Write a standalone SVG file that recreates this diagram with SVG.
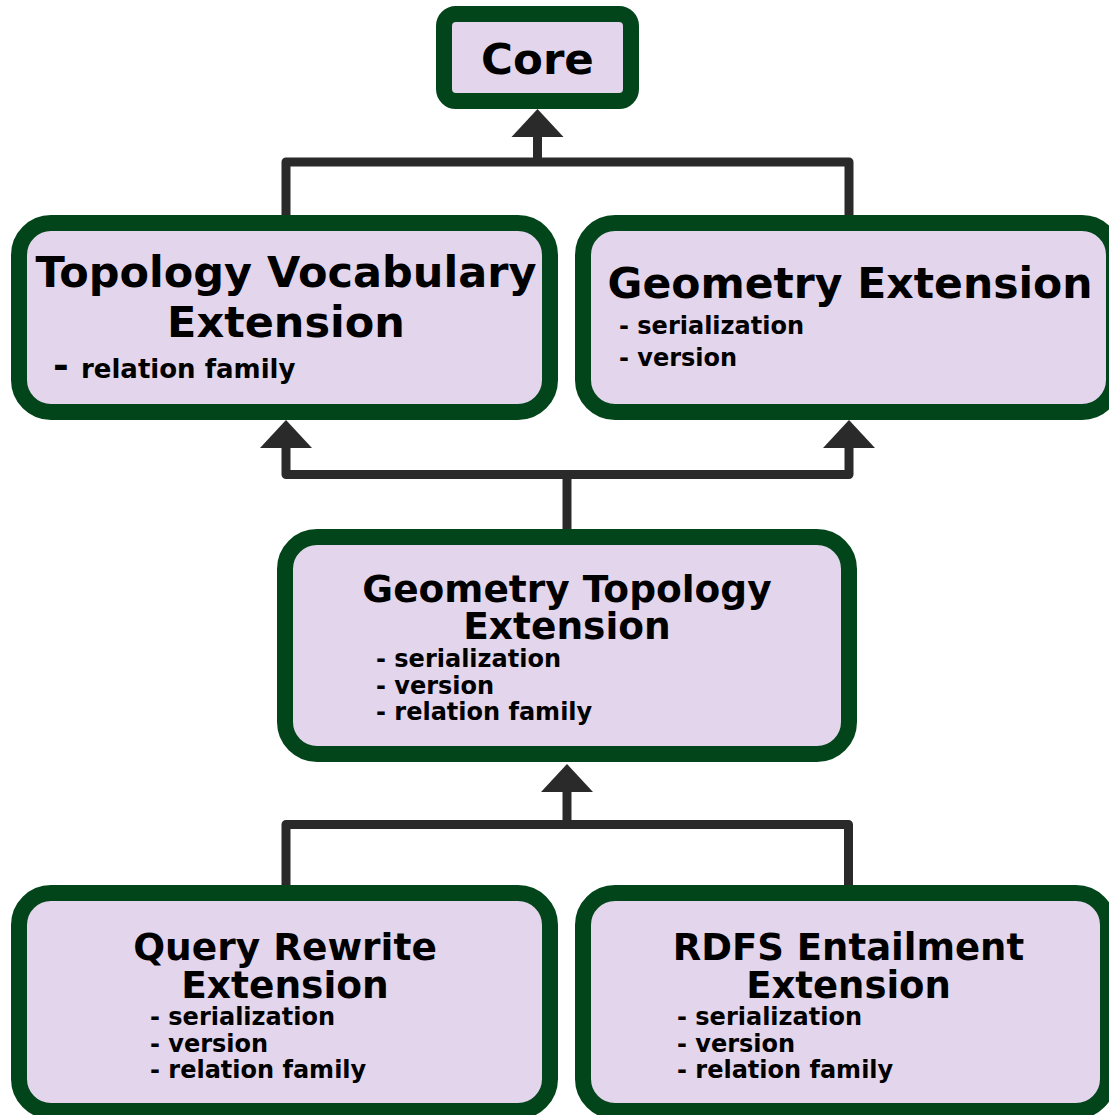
<svg xmlns="http://www.w3.org/2000/svg" width="1109" height="1115" viewBox="0 0 1109 1115">
  <defs>
    <style>
      .box { fill: #e2d5ec; stroke: #03451a; stroke-width: 16; }
      .wire { fill: none; stroke: #2a2a2a; stroke-width: 9; stroke-linejoin: round; }
      .title { font-family: "DejaVu Sans", Verdana, sans-serif; font-weight: bold; fill: #000; text-anchor: middle; }
      .item { font-family: "DejaVu Sans", Verdana, sans-serif; font-weight: bold; fill: #000; font-size: 24px; }
    </style>
    <marker id="head" markerUnits="userSpaceOnUse" markerWidth="30" markerHeight="54" viewBox="0 -27 30 54" refX="0" refY="0" orient="auto-start-reverse">
      <path d="M0,-26 L28,0 L0,26 Z" fill="#2a2a2a"/>
    </marker>
  </defs>

  <rect width="1109" height="1115" fill="#ffffff"/>

  <!-- connectors -->
  <g id="connectors">
    <path class="wire" d="M286,215 V162 H849 V215"/>
    <path class="wire" d="M537.5,162 V137" marker-end="url(#head)"/>
    <path class="wire" d="M286,448 V474.5 H849 V448" marker-start="url(#head)" marker-end="url(#head)"/>
    <path class="wire" d="M567,529 V474.5"/>
    <path class="wire" d="M286,885 V824.5 H848.5 V885"/>
    <path class="wire" d="M567,824.5 V792" marker-end="url(#head)"/>
  </g>

  <!-- Core -->
  <g id="core">
    <rect class="box" x="444" y="14" width="187" height="87" rx="12"/>
    <text class="title" x="537.5" y="74" font-size="43.5">Core</text>
  </g>

  <!-- Topology Vocabulary Extension -->
  <g id="topology-vocabulary">
    <rect class="box" x="19" y="223" width="531" height="189" rx="32"/>
    <text class="title" x="286" y="287" font-size="43">Topology Vocabulary</text>
    <text class="title" x="286" y="337" font-size="43">Extension</text>
    <text class="item" x="53" y="378"><tspan font-size="38">-</tspan><tspan x="81" font-size="26">relation family</tspan></text>
  </g>

  <!-- Geometry Extension -->
  <g id="geometry">
    <rect class="box" x="583" y="223" width="531" height="189" rx="32"/>
    <text class="title" x="850" y="298" font-size="42.5">Geometry Extension</text>
    <text class="item" x="619" y="334" font-size="29">- serialization</text>
    <text class="item" x="619" y="366" font-size="29">- version</text>
  </g>

  <!-- Geometry Topology Extension -->
  <g id="geometry-topology">
    <rect class="box" x="285" y="537" width="564" height="217" rx="32"/>
    <text class="title" x="567" y="602" font-size="37.5">Geometry Topology</text>
    <text class="title" x="567" y="639" font-size="37.5">Extension</text>
    <text class="item" x="376" y="667">- serialization</text>
    <text class="item" x="376" y="694">- version</text>
    <text class="item" x="376" y="720">- relation family</text>
  </g>

  <!-- Query Rewrite Extension -->
  <g id="query-rewrite">
    <rect class="box" x="19" y="893" width="531" height="218" rx="32"/>
    <text class="title" x="285" y="960" font-size="37.5">Query Rewrite</text>
    <text class="title" x="285" y="998" font-size="37.5">Extension</text>
    <text class="item" x="150" y="1025">- serialization</text>
    <text class="item" x="150" y="1052">- version</text>
    <text class="item" x="150" y="1078">- relation family</text>
  </g>

  <!-- RDFS Entailment Extension -->
  <g id="rdfs-entailment">
    <rect class="box" x="583" y="893" width="525" height="218" rx="32"/>
    <text class="title" x="848.5" y="960" font-size="37">RDFS Entailment</text>
    <text class="title" x="848.5" y="998" font-size="37">Extension</text>
    <text class="item" x="677" y="1025">- serialization</text>
    <text class="item" x="677" y="1052">- version</text>
    <text class="item" x="677" y="1078">- relation family</text>
  </g>
</svg>
